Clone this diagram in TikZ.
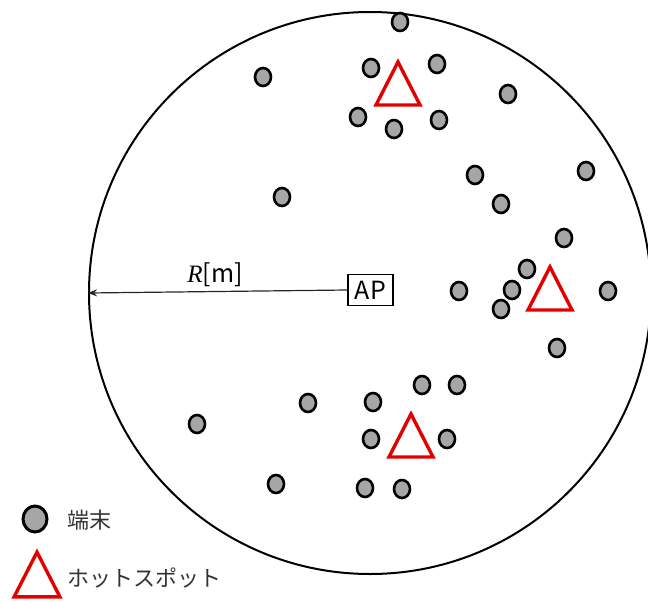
\documentclass[tikz,border=0pt]{standalone}
\usepackage{fontspec}
\setmainfont{Noto Sans CJK JP}
\newfontfamily\rfont{Liberation Serif}
\usetikzlibrary{arrows.meta,shapes.geometric}

\tikzset{
    hotspot/.pic={\draw[hot] (0,-22) -- (22,21) -- (-22,21) -- cycle;}
}

\begin{document}
\begin{tikzpicture}[x=1pt, y=-1pt,
    term/.style={draw, ellipse, line width=2.6pt, fill=black!35, minimum width=16pt, minimum height=18pt, inner sep=0pt},
    hot/.style={draw=red!90!black, line width=3.4pt, line join=miter},
    apbox/.style={draw, line width=1.6pt, minimum width=45pt, minimum height=31pt, inner sep=0pt, font=\fontsize{25}{25}\selectfont},
    arr/.style={-{Stealth[length=9pt, width=7pt]}, line width=1.2pt, black!85},
    legtext/.style={anchor=west, font=\fontsize{22}{22}\selectfont, text=black!80}
]
\useasboundingbox (0,0) rectangle (648,602);

% cell and access point
\node[draw, circle, line width=2pt, minimum size=562pt, inner sep=0pt] (cell) at (370,293) {};
\node[apbox] (ap) at (370.5,290) {AP};
\draw[arr] (ap.west) -- node[above=1pt, pos=0.51, text=black] {\fontsize{25}{25}\selectfont{\rfont\itshape R}[m]} (cell.west);

% hotspots
\pic at (398,84) {hotspot};
\pic at (550,289) {hotspot};
\pic at (411,436) {hotspot};

% terminals
\foreach \x/\y [count=\i] in {400/22, 263/77, 371/68, 437/64, 508/94, 358/117, 394/129, 439/120,
    475/175, 586/171, 282/197, 501/204, 564/238, 527/269, 512/290, 459/291, 608/291, 501/309,
    557/348, 422/385, 457/385, 308/403, 373/402, 197/424, 371/439, 447/439, 276/484, 365/488, 402/489}
    \node[term] (t\i) at (\x,\y) {};

% legend
\node[term, minimum width=24pt, minimum height=26pt, line width=3pt] (legterm) at (35,519) {};
\node[legtext] (legtermtext) at (64,520) {端末};
\pic[scale=1.04] at (37,575) {hotspot};
\node[legtext] (leghottext) at (64,578) {ホットスポット};
\end{tikzpicture}
\end{document}
